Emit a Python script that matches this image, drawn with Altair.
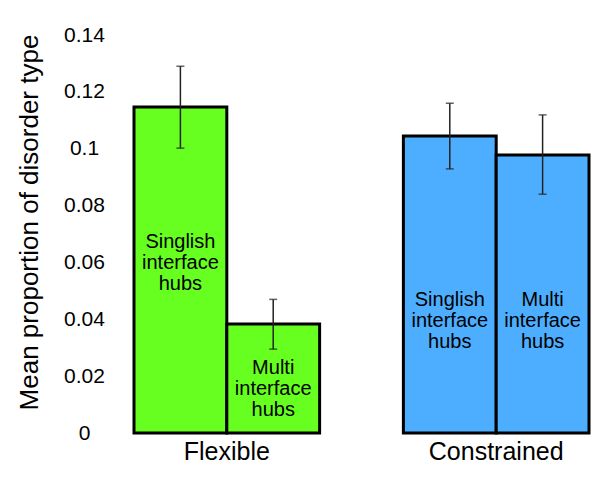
import altair as alt
import pandas as pd

groups = ["Flexible", "Flexible", "Constrained", "Constrained"]
subtypes = ["Singlish", "Multi", "Singlish", "Multi"]
labels = ["Singlish\ninterface\nhubs", "Multi\ninterface\nhubs", "Singlish\ninterface\nhubs", "Multi\ninterface\nhubs"]
means = [0.1147, 0.0383, 0.1045, 0.0978]
err_lo = [0.1002, 0.0295, 0.0929, 0.0840]
err_hi = [0.1290, 0.0470, 0.1160, 0.1119]
y_ticks = [0, 0.02, 0.04, 0.06, 0.08, 0.1, 0.12, 0.14]

df = pd.DataFrame({"group": groups, "sub": subtypes, "label": labels,
                   "mean": means, "lo": err_lo, "hi": err_hi})

FONT = "Liberation Sans"
x_enc = alt.X("group:N", sort=["Flexible", "Constrained"],
              scale=alt.Scale(paddingInner=0.311, paddingOuter=0),
              axis=alt.Axis(title=None, domain=False, ticks=False, labelAngle=0,
                            labelFontSize=25, labelPadding=6, labelColor="black",
                            labelFont=FONT))
xo_enc = alt.XOffset("sub:N", sort=["Singlish", "Multi"],
                     scale=alt.Scale(paddingInner=0, paddingOuter=0))
y_scale = alt.Scale(domain=[0, 0.14], nice=False)

base = alt.Chart(df)

bars = base.mark_bar(stroke="black", strokeWidth=3).encode(
    x=x_enc, xOffset=xo_enc,
    y=alt.Y("mean:Q", scale=y_scale,
            axis=alt.Axis(values=y_ticks, format="~g", domain=False, ticks=False,
                          tickSize=0, grid=False, labelAlign="center",
                          labelPadding=50, labelFontSize=21, labelColor="black",
                          labelFont=FONT,
                          title="Mean proportion of disorder type",
                          titleFontSize=26, titleFontWeight="normal", titleFont=FONT,
                          titleColor="black", titleX=-105, titleY=187,
                          titleAngle=-90, titleBaseline="middle", titleAlign="center")),
    fill=alt.Fill("group:N", scale=alt.Scale(domain=["Flexible", "Constrained"],
                                             range=["#66FF1F", "#4DAEFF"]), legend=None),
)

rules = base.mark_rule(color="#222222", strokeWidth=1.5).encode(
    x=x_enc, xOffset=xo_enc, y=alt.Y("lo:Q", scale=y_scale), y2="hi:Q")

caps_lo = base.mark_tick(color="#222222", thickness=1.5, size=8, orient="horizontal").encode(
    x=x_enc, xOffset=xo_enc, y=alt.Y("lo:Q", scale=y_scale))
caps_hi = base.mark_tick(color="#222222", thickness=1.5, size=8, orient="horizontal").encode(
    x=x_enc, xOffset=xo_enc, y=alt.Y("hi:Q", scale=y_scale))

text = base.transform_calculate(
    ty="datum.group == 'Flexible' ? datum.mean * (datum.sub == 'Singlish' ? 0.586 : 0.598) : datum.mean * (datum.sub == 'Singlish' ? 0.448 : 0.479)"
).mark_text(lineBreak="\n", baseline="middle", align="center", fontSize=20,
            lineHeight=21, font=FONT, color="black").encode(
    x=x_enc, xOffset=xo_enc, y=alt.Y("ty:Q", scale=y_scale), text="label:N")

chart = alt.layer(bars, rules, caps_lo, caps_hi, text).properties(
    width=455, height=398,
    autosize=alt.AutoSizeParams(type="none"),
    padding={"left": 126, "top": 27, "right": 3, "bottom": 42},
).configure_view(stroke=None)

chart.save("out.html", embed_options={"renderer": "svg", "actions": False})
